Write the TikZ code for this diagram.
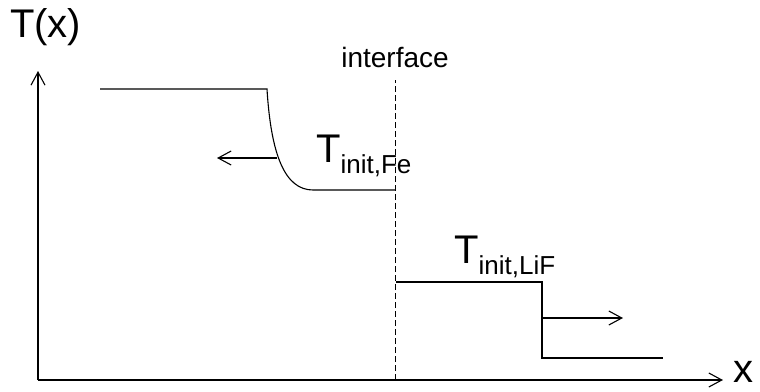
\documentclass[tikz,border=0pt]{standalone}
\usepackage{fontspec}
\setmainfont{Liberation Sans}
\usetikzlibrary{arrows.meta,positioning}
\tikzset{
  profile/.style={line width=1.1pt},
  barb/.style={line width=1.1pt, -{Straight Barb[length=13pt,width=14pt,line width=1.1pt]}},
  bigtext/.style={font=\fontsize{40}{40}\selectfont, inner sep=0pt},
  smalltext/.style={font=\fontsize{28}{28}\selectfont, inner sep=0pt},
}
\newcommand{\sublabel}[1]{\raisebox{-11pt}{\fontsize{26}{26}\selectfont #1}}

\begin{document}
\begin{tikzpicture}[x=1pt, y=-1pt]
    \useasboundingbox (0,0) rectangle (760,391);
    % Axes
    \coordinate (origin) at (38,380);
    \coordinate (ytip) at (38,71);
    \coordinate (xtip) at (723,380);
    \draw[barb] (origin) -- (ytip);
    \draw[barb] (origin) -- (xtip);
    \node[bigtext, anchor=base west] (ylabel) at (10,37) {T(x)};
    \node[bigtext, anchor=base west] (xlabel) at (733,382) {x};

    % Interface
    \coordinate (ifbot) at (395,380);
    \coordinate (iftop) at (395,80);
    \draw[line width=0.9pt, dash pattern=on 6pt off 3pt] (ifbot) -- (iftop);
    \node[smalltext, anchor=base] (iflabel) at (395,67) {interface};

    % Fe side (cooling profile)
    \coordinate (fe0) at (100,89);
    \coordinate (fe1) at (267,89);
    \coordinate (fe2) at (313,190);
    \coordinate (fe3) at (395,190);
    \draw[profile] (fe0) -- (fe1) .. controls (271,155) and (285,190) .. (fe2) -- (fe3);
    \coordinate (fearrow) at (277,158);
    \coordinate (fetip) at (217,158);
    \draw[barb] (fearrow) -- (fetip);
    \node[bigtext, anchor=base west] (tfe) at (316,162) {T\sublabel{init,Fe}};

    % LiF side
    \coordinate (lif0) at (396,282);
    \coordinate (lif1) at (542,282);
    \coordinate (lif2) at (542,358);
    \coordinate (lif3) at (663,358);
    \draw[profile] (lif0) -- (lif1) -- (lif2) -- (lif3);
    \coordinate (lifarrow) at (542,318);
    \coordinate (liftip) at (623,318);
    \draw[barb] (lifarrow) -- (liftip);
    \node[bigtext, anchor=base west] (tlif) at (454,263) {T\sublabel{init,LiF}};
\end{tikzpicture}
\end{document}
